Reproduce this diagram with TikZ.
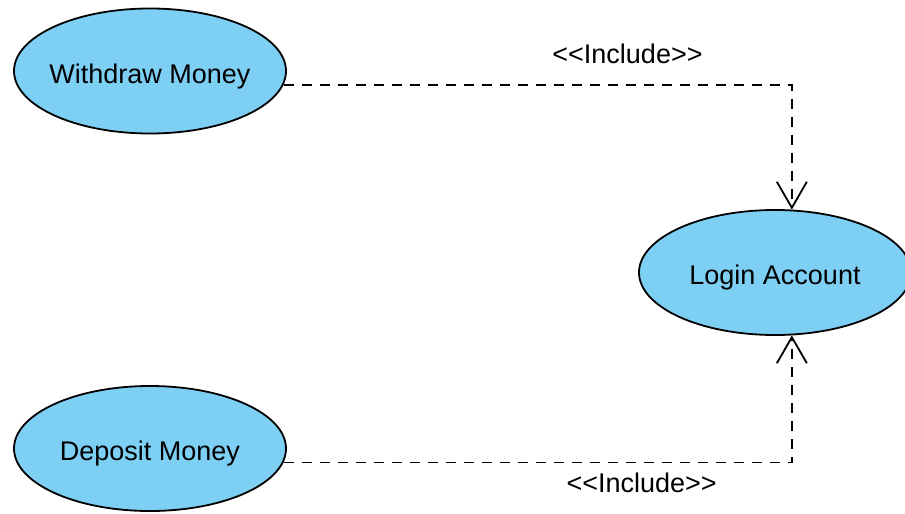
\documentclass[tikz,border=0pt]{standalone}
\usepackage{fontspec}
\newfontfamily\umlfont{Liberation Sans}
\usetikzlibrary{arrows.meta,shapes.geometric}
\definecolor{ucfill}{HTML}{7ECFF4}
\newcommand{\uctext}[1]{\makebox[0pt][c]{#1}}
\tikzset{
  usecase/.style={ellipse, draw=black, line width=1.8pt, fill=ucfill,
    minimum width=272pt, minimum height=125pt, inner sep=0pt,
    font=\umlfont\fontsize{27pt}{30pt}\selectfont, text height=24pt, text depth=0pt},
  include/.style={line width=1.8pt, dash pattern=on 10pt off 8pt,
    -{Straight Barb[length=26pt,width=30pt]}},
  stereo/.style={anchor=base, inner sep=0pt, font=\umlfont\fontsize{27pt}{30pt}\selectfont}
}
\begin{document}
\begin{tikzpicture}[x=1pt,y=1pt]
\useasboundingbox (0,0) rectangle (905,-514);
\clip (0,0) rectangle (905,-514);
\fill[white] (0,0) rectangle (905,-514);
\node[usecase] (w) at (150,-71) {\uctext{Withdraw Money}};
\node[usecase] (d) at (150,-448.5) {\uctext{Deposit Money}};
\node[usecase] (l) at (775,-272.5) {\uctext{Login Account}};
\draw[include] (w.-6) -| (l.75.5);
\draw[include] (d.-6) -| (l.-75.5);
\node[stereo] (t1) at (627.5,-63) {<{}<Include>{}>};
\node[stereo] (t2) at (641.7,-492) {<{}<Include>{}>};
\end{tikzpicture}
\end{document}
